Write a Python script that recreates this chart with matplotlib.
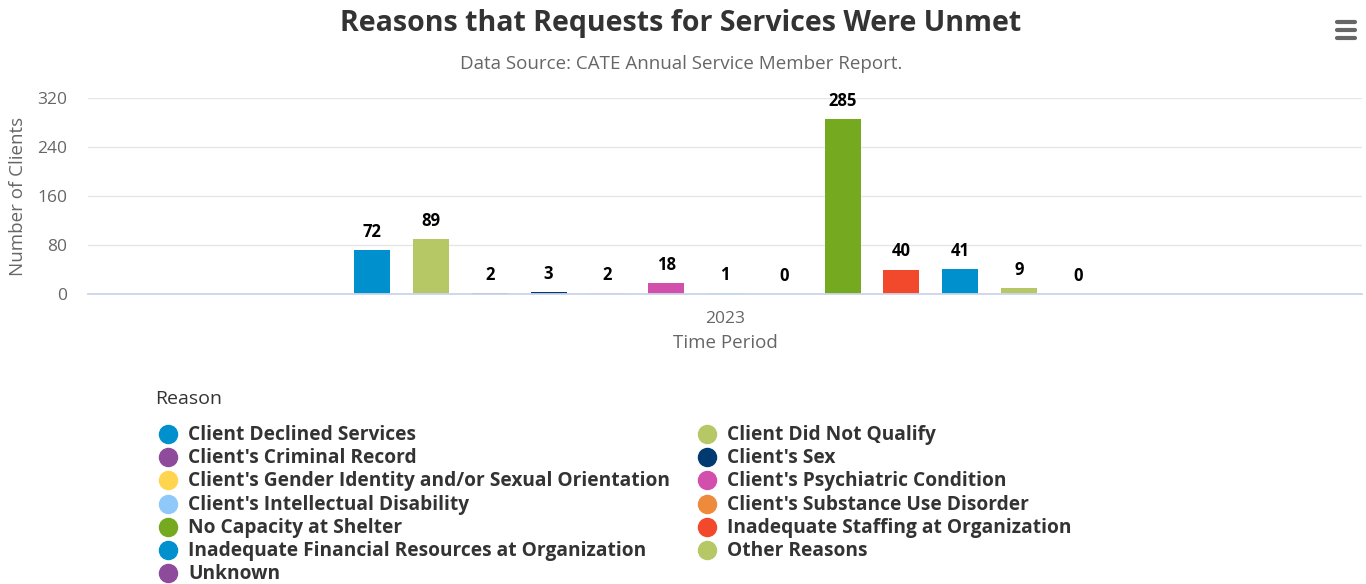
import matplotlib
matplotlib.use("Agg")
import matplotlib.pyplot as plt
from matplotlib.lines import Line2D

plt.rcParams["font.family"] = ["Open Sans", "DejaVu Sans"]

# %%
# Data
category = "2023"
reasons = [
    "Client Declined Services",
    "Client Did Not Qualify",
    "Client's Criminal Record",
    "Client's Sex",
    "Client's Gender Identity and/or Sexual Orientation",
    "Client's Psychiatric Condition",
    "Client's Intellectual Disability",
    "Client's Substance Use Disorder",
    "No Capacity at Shelter",
    "Inadequate Staffing at Organization",
    "Inadequate Financial Resources at Organization",
    "Other Reasons",
    "Unknown",
]
counts = [72, 89, 2, 3, 2, 18, 1, 0, 285, 40, 41, 9, 0]
colors = [
    "#0090cd", "#b5c865", "#8e4b9c", "#003a70", "#ffd54f", "#d34fac",
    "#8fc9f9", "#ee8a3c", "#74a920", "#f2482b", "#0090cd", "#b5c865",
    "#8e4b9c",
]
y_ticks = [0, 80, 160, 240, 320]

W, H = 1366, 584
fig = plt.figure(figsize=(W / 100, H / 100), dpi=100)
ax = fig.add_axes([88 / W, 1 - 294 / H, (1362 - 88) / W, (294 - 98) / H])

# grouped columns within the single category
n = len(counts)
group = 0.6
slot = group / n
bar_w = 36 / 1274
for i, (v, c) in enumerate(zip(counts, colors)):
    x = -group / 2 + slot * (i + 0.5)
    ax.bar(x, v, width=bar_w, color=c, zorder=3)
    ax.annotate(str(v), (x, v), xytext=(0, 6.5), textcoords="offset points",
                ha="center", va="bottom", fontsize=12, fontweight="bold",
                color="black", zorder=4)

ax.set_xlim(-0.5, 0.5)
ax.set_ylim(0, 320)
ax.set_yticks(y_ticks)
ax.set_yticklabels([str(t) for t in y_ticks], color="#666666", fontsize=12.5)
ax.set_xticks([0])
ax.set_xticklabels([category], color="#666666", fontsize=12.5)
ax.tick_params(axis="both", length=0)
ax.tick_params(axis="x", pad=12)
ax.tick_params(axis="y", pad=15)
ax.grid(axis="y", color="#e6e6e6", linewidth=1, zorder=0)
for s in ["top", "right", "left"]:
    ax.spines[s].set_visible(False)
ax.spines["bottom"].set_color("#ccd6eb")
ax.spines["bottom"].set_linewidth(1.3)
ax.spines["bottom"].set_zorder(5)
ax.set_xlabel("Time Period", color="#666666", fontsize=13.5, labelpad=5)
ax.set_ylabel("Number of Clients", color="#666666", fontsize=13.5, labelpad=7)

fig.text(681 / W, 1 - 23 / H, "Reasons that Requests for Services Were Unmet",
         ha="center", va="center", fontsize=20.5, fontweight="bold", color="#333333")
fig.text(681 / W, 1 - 64 / H, "Data Source: CATE Annual Service Member Report.",
         ha="center", va="center", fontsize=13.5, color="#666666")

# menu icon
for yy in (22, 30, 38):
    fig.add_artist(Line2D([1337 / W, 1355 / W], [1 - yy / H, 1 - yy / H],
                          color="#666666", linewidth=3, solid_capstyle="round"))

# legend, row-wise in two columns
fig.text(155 / W, 1 - 399 / H, "Reason", ha="left", va="center",
         fontsize=14, color="#333333")
for i, (name, c) in enumerate(zip(reasons, colors)):
    col, row = i % 2, i // 2
    mx = 168 if col == 0 else 707
    yy = 1 - (434 + row * 23.2) / H
    fig.add_artist(Line2D([mx / W], [yy], marker="o", markersize=13,
                          color=c, linestyle="none"))
    fig.text((mx + 20) / W, yy - 1 / H, name, ha="left", va="center",
             fontsize=13.8, fontweight="bold", color="#333333")

fig.savefig("out.png", dpi=100)
